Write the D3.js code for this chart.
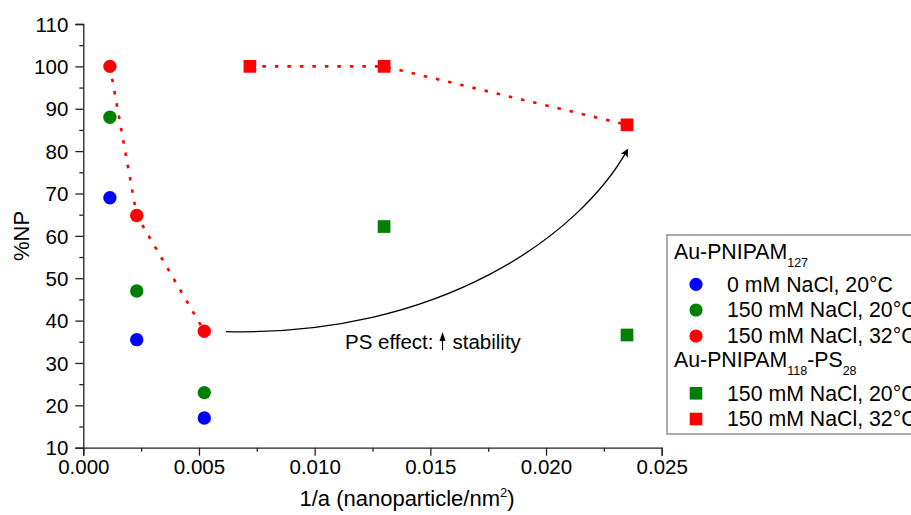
<!DOCTYPE html>
<html><head><meta charset="utf-8">
<script src="https://cdn.jsdelivr.net/npm/d3@7"></script>
<style>
body{margin:0;background:#fff}
svg{display:block;font-family:"Liberation Sans",Arial,sans-serif}
</style>
</head><body>
<svg id="c" width="911" height="515"></svg>
<script>
// ---- data ----
const xCircles = [0.00115, 0.00231, 0.00523];
const blue0C20 = [69, 35.5, 17];
const green150C20 = [88, 47, 23];
const red150C32 = [100, 64.8, 37.5];
const xSquares = [0.0130, 0.0235];
const greenSq150C20 = [62.2, 36.6];
const xSquaresRed = [0.0072, 0.0130, 0.0235];
const redSq150C32 = [100, 100, 86.2];
const yTicks = [10, 20, 30, 40, 50, 60, 70, 80, 90, 100, 110];
const xTicks = [0.000, 0.005, 0.010, 0.015, 0.020, 0.025];
const legendLabels = ["0 mM NaCl, 20°C", "150 mM NaCl, 20°C", "150 mM NaCl, 32°C", "150 mM NaCl, 20°C", "150 mM NaCl, 32°C"];
// annotation arrow in data coordinates (start, control1, control2, end)
const arrowPts = [[0.00617, 37.4], [0.01541, 36.2], [0.02147, 60.1], [0.02353, 80.4]];

const svg = d3.select("#c");
const x = d3.scaleLinear().domain([0, 0.025]).range([83.3, 661.7]);
const y = d3.scaleLinear().domain([10, 110]).range([447.7, 24]);

const BLUE = "#0000ff", GREEN = "#008000", RED = "#ff0000";
const AX = "#222";
const FS = 20.5;

// axes
const xAxis = svg.append("g").attr("transform", `translate(0,${y(10)})`)
  .call(d3.axisBottom(x).tickValues(xTicks).tickFormat(d3.format(".3f")).tickSize(8).tickPadding(4));
const xMinor = svg.append("g").attr("transform", `translate(0,${y(10)})`)
  .call(d3.axisBottom(x).tickValues(d3.range(0.0025, 0.025, 0.005)).tickFormat("").tickSize(4));
const yAxis = svg.append("g").attr("transform", `translate(${x(0)},0)`)
  .call(d3.axisLeft(y).tickValues(yTicks).tickFormat(d3.format("d")).tickSize(8).tickPadding(7));
const yMinor = svg.append("g").attr("transform", `translate(${x(0)},0)`)
  .call(d3.axisLeft(y).tickValues(d3.range(15, 110, 10)).tickFormat("").tickSize(4));
[xAxis, xMinor, yAxis, yMinor].forEach(g => {
  g.select(".domain").attr("stroke", AX).attr("stroke-width", 1.3);
  g.selectAll(".tick line").attr("stroke", AX).attr("stroke-width", 1.3);
  g.selectAll("text").attr("fill", "#000").style("font-size", FS + "px").style("font-family", '"Liberation Sans",Arial,sans-serif');
});
xMinor.select(".domain").remove(); yMinor.select(".domain").remove();
yAxis.selectAll("text").attr("dy", "0.35em");

// axis titles
const xt = svg.append("text").attr("x", 407).attr("y", 506).attr("text-anchor", "middle")
  .style("font-size", "22px").attr("fill", "#000");
xt.append("tspan").text("1/a (nanoparticle/nm");
xt.append("tspan").text("2").attr("dy", -9).style("font-size", "13px");
xt.append("tspan").text(")").attr("dy", 9);
svg.append("text").attr("transform", `translate(29,236) rotate(-90)`).attr("text-anchor", "middle")
  .style("font-size", "22px").attr("fill", "#000").text("%NP");

// dotted connecting lines
const line = d3.line().x(d => x(d[0])).y(d => y(d[1]));
svg.append("path").datum(d3.zip(xCircles, red150C32)).attr("d", line)
  .attr("fill", "none").attr("stroke", RED).attr("stroke-width", 2.6).attr("stroke-dasharray", "3.5,9");
svg.append("path").datum(d3.zip(xSquaresRed, redSq150C32)).attr("d", line)
  .attr("fill", "none").attr("stroke", RED).attr("stroke-width", 2.6).attr("stroke-dasharray", "3.5,9");

// circles
const R = 6.7;
[[blue0C20, BLUE], [green150C20, GREEN], [red150C32, RED]].forEach(([vals, col]) => {
  svg.append("g").selectAll("circle").data(d3.zip(xCircles, vals)).join("circle")
    .attr("cx", d => x(d[0])).attr("cy", d => y(d[1])).attr("r", R).attr("fill", col);
});
// squares
const S = 12.7;
[[xSquares, greenSq150C20, GREEN], [xSquaresRed, redSq150C32, RED]].forEach(([xs, vals, col]) => {
  svg.append("g").selectAll("rect").data(d3.zip(xs, vals)).join("rect")
    .attr("x", d => x(d[0]) - S / 2).attr("y", d => y(d[1]) - S / 2)
    .attr("width", S).attr("height", S).attr("fill", col);
});

// annotation arrow
svg.append("defs").append("marker").attr("id", "ah").attr("viewBox", "0 0 10 10")
  .attr("refX", 9).attr("refY", 5).attr("markerWidth", 11).attr("markerHeight", 8)
  .attr("markerUnits", "userSpaceOnUse").attr("orient", "auto")
  .append("path").attr("d", "M0,0 L10,5 L0,10 L2,5 Z").attr("fill", "#000");
const p = d3.path();
const ap = arrowPts.map(d => [x(d[0]), y(d[1])]);
p.moveTo(...ap[0]); p.bezierCurveTo(...ap[1], ...ap[2], ...ap[3]);
svg.append("path").attr("d", p.toString()).attr("fill", "none").attr("stroke", "#000")
  .attr("stroke-width", 1.3).attr("marker-end", "url(#ah)");

// "PS effect: (arrow) stability"
const ann = svg.append("g");
const a1 = ann.append("text").attr("x", 345).attr("y", 349).style("font-size", "20.5px").attr("fill", "#000")
  .text("PS effect:");
const w1 = a1.node().getComputedTextLength();
const ax0 = 345 + w1 + 9;
ann.append("line").attr("x1", ax0).attr("x2", ax0).attr("y1", 350).attr("y2", 338)
  .attr("stroke", "#000").attr("stroke-width", 1.1);
ann.append("path").attr("d", `M${ax0},332 L${ax0 - 3},341 L${ax0 + 3},341 Z`).attr("fill", "#000");
ann.append("text").attr("x", ax0 + 10).attr("y", 349).style("font-size", "20.5px").attr("fill", "#000")
  .text("stability");

// legend
const LFS = "21.3px";
const lg = svg.append("g");
lg.append("rect").attr("x", 667).attr("y", 235).attr("width", 260).attr("height", 199)
  .attr("fill", "#fff").attr("stroke", "#808080").attr("stroke-width", 1.3);
const t1 = lg.append("text").attr("x", 674).attr("y", 259).style("font-size", LFS).attr("fill", "#000");
t1.append("tspan").text("Au-PNIPAM");
t1.append("tspan").text("127").attr("dy", 8).style("font-size", "12.5px");
const t2 = lg.append("text").attr("x", 674).attr("y", 367).style("font-size", LFS).attr("fill", "#000");
t2.append("tspan").text("Au-PNIPAM");
t2.append("tspan").text("118").attr("dy", 8).style("font-size", "12.5px");
t2.append("tspan").text("-PS").attr("dy", -8);
t2.append("tspan").text("28").attr("dy", 8).style("font-size", "12.5px");
const rowsY = [284.3, 310, 336, 393.3, 419];
const rowCols = [BLUE, GREEN, RED, GREEN, RED];
rowsY.forEach((ry, i) => {
  if (i < 3) lg.append("circle").attr("cx", 696).attr("cy", ry).attr("r", 6.6).attr("fill", rowCols[i]);
  else lg.append("rect").attr("x", 696 - 6.3).attr("y", ry - 6.3).attr("width", 12.6).attr("height", 12.6).attr("fill", rowCols[i]);
  lg.append("text").attr("x", 727).attr("y", ry).attr("dy", "0.35em").style("font-size", LFS)
    .attr("fill", "#000").text(legendLabels[i]);
});
</script>
</body></html>
